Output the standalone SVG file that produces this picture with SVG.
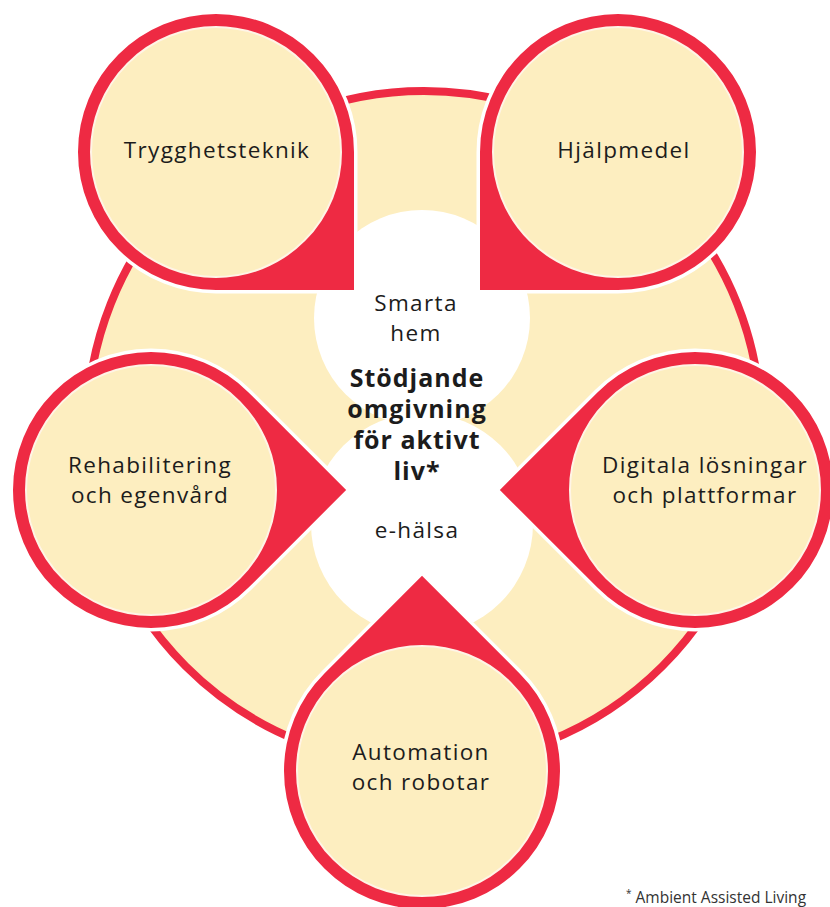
<svg xmlns="http://www.w3.org/2000/svg" width="830" height="907" viewBox="0 0 830 907">
  <defs>
    <style>
      .ring { fill: #FDEEC0; stroke: #EE2A43; stroke-width: 8; }
      .hole { fill: #FFFFFF; }
      .drop { fill: #EE2A43; stroke: #FFFFFF; stroke-width: 7; paint-order: stroke; }
      .inner { fill: #FDEEC0; stroke: #FFF4E6; stroke-width: 2; }
      .lbl { font-family: "Open Sans", "Noto Sans", "DejaVu Sans", sans-serif; font-size: 22.5px; letter-spacing: 1.35px; fill: #1c1c1c; text-anchor: middle; }
      .bold { font-weight: bold; font-size: 25px; letter-spacing: 1px; }
      .note { font-family: "Open Sans", "Noto Sans", "DejaVu Sans", sans-serif; font-size: 15.5px; fill: #333333; }
    </style>
    <path id="tear" d="M 97.58,-97.58 L 195.16,0 L 97.58,97.58 A 138 138 0 1 1 97.58,-97.58 Z"/>
  </defs>

  <g id="background">
    <circle class="ring" cx="424" cy="428" r="337"/>
    <circle class="hole" cx="422" cy="318" r="108"/>
    <circle class="hole" cx="422" cy="524" r="111"/>
  </g>

  <g id="connectors"></g>

  <g id="node-trygghetsteknik">
    <use href="#tear" class="drop" transform="translate(216,152) rotate(45)"/>
    <circle class="inner" cx="216" cy="152" r="125"/>
    <text class="lbl" x="217" y="158">Trygghetsteknik</text>
  </g>

  <g id="node-hjalpmedel">
    <use href="#tear" class="drop" transform="translate(618,152) rotate(135)"/>
    <circle class="inner" cx="618" cy="152" r="125"/>
    <text class="lbl" x="624" y="158">Hjälpmedel</text>
  </g>

  <g id="node-rehabilitering">
    <use href="#tear" class="drop" transform="translate(151,490) rotate(0)"/>
    <circle class="inner" cx="151" cy="490" r="125"/>
    <text class="lbl" x="150" y="473">Rehabilitering</text>
    <text class="lbl" x="150" y="503">och egenvård</text>
  </g>

  <g id="node-digitala">
    <use href="#tear" class="drop" transform="translate(695,490) rotate(180)"/>
    <circle class="inner" cx="695" cy="490" r="125"/>
    <text class="lbl" x="705" y="473">Digitala lösningar</text>
    <text class="lbl" x="705" y="503">och plattformar</text>
  </g>

  <g id="node-automation">
    <use href="#tear" class="drop" transform="translate(422,771) rotate(-90)"/>
    <circle class="inner" cx="422" cy="771" r="125"/>
    <text class="lbl" x="421" y="760">Automation</text>
    <text class="lbl" x="421" y="790">och robotar</text>
  </g>

  <g id="center">
    <text class="lbl" x="416" y="311">Smarta</text>
    <text class="lbl" x="416" y="341">hem</text>
    <text class="lbl bold" x="417" y="387">Stödjande</text>
    <text class="lbl bold" x="417" y="418">omgivning</text>
    <text class="lbl bold" x="417" y="449">för aktivt</text>
    <text class="lbl bold" x="417" y="480">liv*</text>
    <text class="lbl" x="417" y="538">e-hälsa</text>
  </g>

  <g id="footnote">
    <text class="note" x="626" y="903"><tspan font-size="10" dy="-6">*</tspan><tspan dy="6"> Ambient Assisted Living</tspan></text>
  </g>
</svg>
